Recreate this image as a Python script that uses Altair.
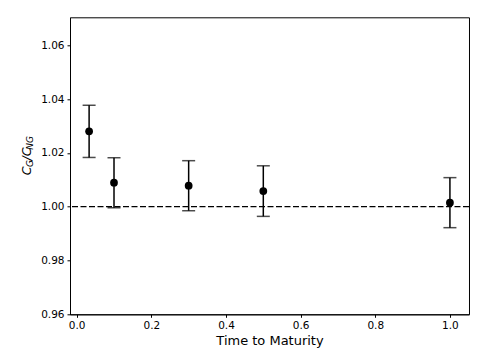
import altair as alt
import pandas as pd

maturity = [0.0333, 0.1, 0.3, 0.5, 1.0]
ratio = [1.0280, 1.0089, 1.0078, 1.0058, 1.0015]
err = [0.0097, 0.0093, 0.0093, 0.0094, 0.0093]
x_ticks = [0.0, 0.2, 0.4, 0.6, 0.8, 1.0]
y_ticks = [0.96, 0.98, 1.00, 1.02, 1.04, 1.06]
ref_level = [1.0]

df = pd.DataFrame({"t": maturity, "r": ratio, "e": err})
df["lo"] = df["r"] - df["e"]
df["hi"] = df["r"] + df["e"]

FONT = "DejaVu Sans"
xs = alt.Scale(domain=[-0.0179, 1.0511], nice=False, zero=False)
ys = alt.Scale(domain=[0.96, 1.0704], nice=False, zero=False)

xax = alt.Axis(values=x_ticks, format=".1f", title="Time to Maturity", grid=False,
               labelFont=FONT, labelFontSize=10.5, labelColor="#000", tickColor="#000",
               tickSize=3, domainColor="#000", titleFont=FONT, titleFontSize=13,
               titleFontWeight="normal", titleColor="#000", titlePadding=4, labelPadding=3)
yax = alt.Axis(values=y_ticks, format=".2f", title=None, grid=False,
               labelFont=FONT, labelFontSize=10.5, labelColor="#000", tickColor="#000",
               tickSize=3, domainColor="#000", labelPadding=3)

base = alt.Chart(df)

bars = base.mark_rule(color="#000", strokeWidth=1.5).encode(
    x=alt.X("t:Q", scale=xs, axis=xax),
    y=alt.Y("lo:Q", scale=ys, axis=yax),
    y2="hi:Q",
)
cap_lo = base.mark_tick(orient="horizontal", color="#000", size=13, thickness=1.5).encode(
    x=alt.X("t:Q", scale=xs), y=alt.Y("lo:Q", scale=ys))
cap_hi = base.mark_tick(orient="horizontal", color="#000", size=13, thickness=1.5).encode(
    x=alt.X("t:Q", scale=xs), y=alt.Y("hi:Q", scale=ys))
pts = base.mark_circle(color="#000", size=60, opacity=1).encode(
    x=alt.X("t:Q", scale=xs), y=alt.Y("r:Q", scale=ys))

hline = alt.Chart(pd.DataFrame({"y": ref_level})).mark_rule(
    color="#000", strokeWidth=1.3, strokeDash=[6, 2.5]).encode(
    y=alt.Y("y:Q", scale=ys))

one = pd.DataFrame({"a": [0]})
top = 17.3
pieces = [
    ("C", 12.5, -43, 171 - top),
    ("G", 9, -40, 163.5 - top),
    ("/", 12.5, -43, 158.5 - top),
    ("C", 12.5, -43, 152 - top),
    ("NG", 9, -40, 143 - top),
]
label_layers = []
for txt, fs, xp, yp in pieces:
    label_layers.append(
        alt.Chart(one).mark_text(text=txt, font=FONT, fontSize=fs, fontStyle="italic",
                                 angle=270, align="center", baseline="middle", color="#000")
        .encode(x=alt.value(xp), y=alt.value(yp))
    )

chart = alt.layer(hline, bars, cap_lo, cap_hi, pts, *label_layers).properties(
    width=399, height=297,
    autosize=alt.AutoSizeParams(type="none"),
    padding={"left": 62, "top": 9.3, "right": 21, "bottom": 40},
).configure_view(stroke="#000", strokeWidth=1)

chart.save("out.html", embed_options={"renderer": "svg", "actions": False})
